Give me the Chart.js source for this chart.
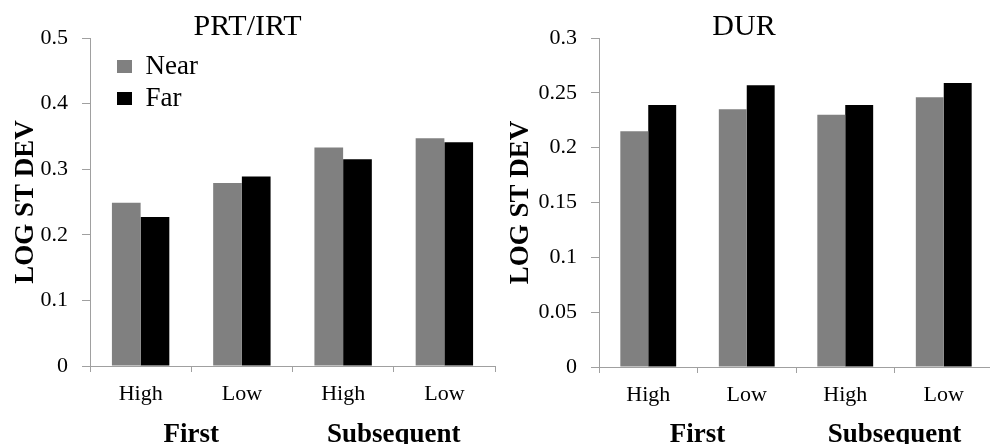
<!DOCTYPE html>
<html>
<head>
<meta charset="utf-8">
<script src="https://cdn.jsdelivr.net/npm/chart.js@4.4.0/dist/chart.umd.min.js"></script>
<style>
  body { margin: 0; background: #fff; width: 990px; height: 444px; overflow: hidden; position: relative; }
  canvas { position: absolute; top: 0; }
</style>
</head>
<body>
<canvas id="prtChart" width="580" height="444" style="left:0"></canvas>
<canvas id="durChart" width="580" height="444" style="left:495px"></canvas>
<script>
// category labels
const levels = ['High', 'Low', 'High', 'Low'];
const groups = ['First', 'Subsequent'];
const seriesNames = ['Near', 'Far'];

// PRT/IRT panel values
const prtNear = [0.249, 0.279, 0.333, 0.347];
const prtFar = [0.227, 0.289, 0.315, 0.341];

// DUR panel values
const durNear = [0.215, 0.235, 0.230, 0.246];
const durFar = [0.239, 0.257, 0.239, 0.259];

// y axis ranges
const prtAxis = [0, 0.5, 0.1];
const durAxis = [0, 0.3, 0.05];

const serif = "'Liberation Serif', 'Times New Roman', serif";
const axisGray = '#a0a0a0';
Chart.defaults.font.family = serif;
Chart.defaults.color = '#000';

// moves the chartArea legend to where the original sits
const legendNudge = {
    id: 'legendNudge',
    afterLayout(chart, args, opts) {
        if (!chart.legend || opts.dx === undefined) return;
        chart.legend.left = chart.chartArea.left + opts.dx;
        chart.legend.top = chart.chartArea.top + opts.dy;
    }
};

function makeChart(id, title, near, far, axis, cfg) {
    const ctx = document.getElementById(id).getContext('2d');
    return new Chart(ctx, {
        type: 'bar',
        data: {
            labels: levels,
            datasets: [
                { label: seriesNames[0], data: near, backgroundColor: '#808080' },
                { label: seriesNames[1], data: far, backgroundColor: '#000000' }
            ]
        },
        options: {
            responsive: false,
            animation: false,
            layout: { padding: { left: 0, right: cfg.padRight, top: 0, bottom: 0 } },
            datasets: { bar: { barPercentage: 1, categoryPercentage: 0.567 } },
            plugins: {
                title: {
                    display: true,
                    text: title,
                    color: '#000',
                    font: { size: 30, weight: 'normal', lineHeight: 0.7 },
                    padding: { top: 17, bottom: 0 }
                },
                legend: {
                    display: cfg.legend,
                    position: 'chartArea',
                    align: 'start',
                    labels: {
                        boxWidth: 15,
                        boxHeight: 13,
                        padding: 5,
                        color: '#000',
                        font: { size: 27 }
                    }
                },
                legendNudge: cfg.legend ? { dx: 22, dy: 10 } : {},
                tooltip: { enabled: false }
            },
            scales: {
                x: {
                    offset: true,
                    grid: { display: true, drawOnChartArea: false, offset: true, tickLength: 6, color: axisGray },
                    border: { color: axisGray },
                    ticks: { font: { size: 22 }, padding: 9, maxRotation: 0, autoSkip: false },
                    afterFit: s => { s.height = cfg.xHeight; }
                },
                x2: {
                    type: 'category',
                    labels: groups,
                    position: 'bottom',
                    offset: true,
                    weight: 1,
                    grid: { display: false },
                    border: { display: false },
                    ticks: { font: { size: 27, weight: 'bold' }, padding: 3, maxRotation: 0, autoSkip: false },
                    afterFit: s => { s.height = 36; }
                },
                y: {
                    min: axis[0],
                    max: axis[1],
                    ticks: {
                        stepSize: axis[2],
                        font: { size: 22 },
                        padding: 14,
                        callback: v => String(Number(v.toFixed(2)))
                    },
                    grid: { display: true, drawOnChartArea: false, tickLength: 8, color: axisGray },
                    border: { color: axisGray },
                    title: {
                        display: true,
                        text: 'LOG ST DEV',
                        font: { size: 27, weight: 'bold' },
                        padding: { top: cfg.titlePad, bottom: 0 }
                    },
                    afterFit: s => { s.width = cfg.yWidth; }
                }
            }
        },
        plugins: [legendNudge]
    });
}

makeChart('prtChart', 'PRT/IRT', prtNear, prtFar, prtAxis,
    { padRight: 85, yWidth: 90, xHeight: 42, titlePad: 9.5, legend: true });
makeChart('durChart', 'DUR', durNear, durFar, durAxis,
    { padRight: 82, yWidth: 104, xHeight: 41, titlePad: 10, legend: false });
</script>
</body>
</html>
